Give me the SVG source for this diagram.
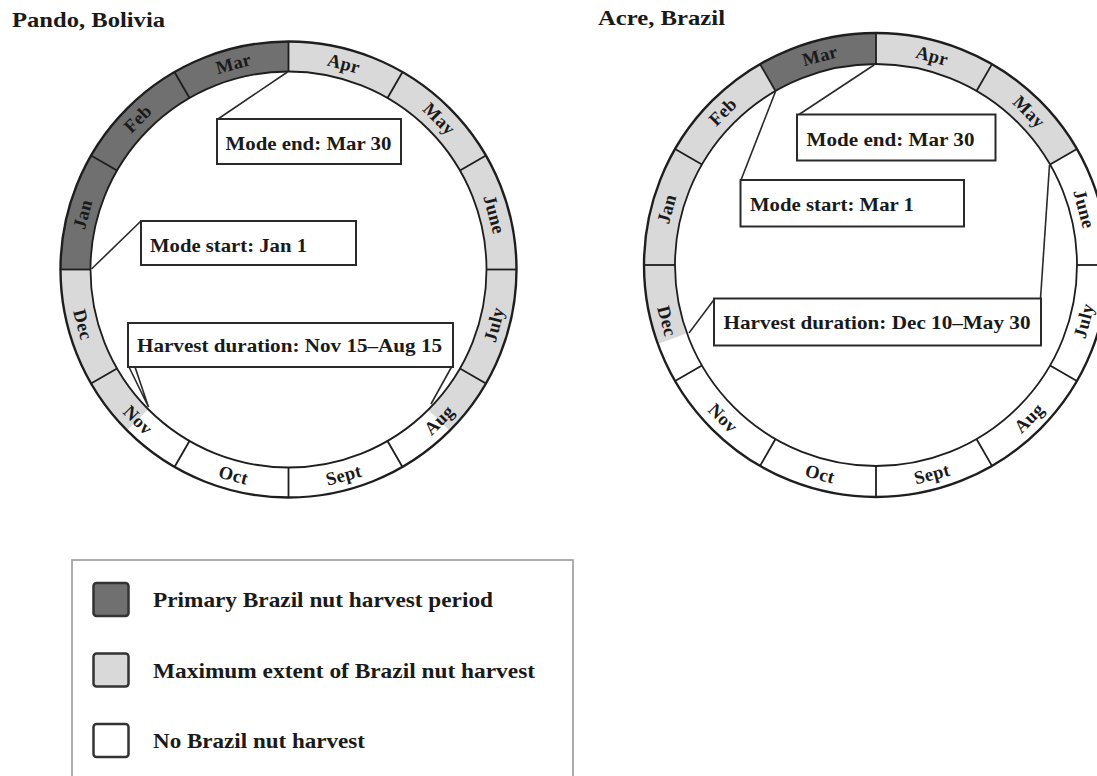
<svg xmlns="http://www.w3.org/2000/svg" width="1097" height="776" viewBox="0 0 1097 776">
<style>
text{font-family:"Liberation Serif","Times New Roman",serif;font-weight:bold;fill:#1a1a1a}
.title{font-size:22px}
.mon{font-size:18.5px;text-anchor:middle;letter-spacing:0.3px}
.call{font-size:19.5px}
.leg{font-size:21px}
.box{fill:#fff;stroke:#2a2a2a;stroke-width:2}
.ptr{fill:none;stroke:#2a2a2a;stroke-width:1.6}
.rim{fill:none;stroke:#1e1e1e;stroke-width:2.4}
.rimi{fill:none;stroke:#1e1e1e;stroke-width:1.8}
.div{stroke:#1e1e1e;stroke-width:1.8}
.light{fill:none;stroke:#d9d9d9}
.white{fill:none;stroke:#ffffff}
.dark{fill:none;stroke:#707070}
.sw{stroke:#333;stroke-width:2.5}
</style>
<rect width="1097" height="776" fill="#fff"/>

<g id="title-pando"><text class="title" x="12" y="27" textLength="153" lengthAdjust="spacingAndGlyphs">Pando, Bolivia</text></g>
<g id="title-acre"><text class="title" x="598" y="24.5" textLength="127" lengthAdjust="spacingAndGlyphs">Acre, Brazil</text></g>

<!-- Left ring: Pando -->
<g id="ring-pando">
  <circle class="light" cx="288.5" cy="269.5" r="213" stroke-width="30"/>
  <circle class="white" cx="288.5" cy="269.5" r="213" stroke-width="30" stroke-dasharray="0 501.87 334.58 2000" transform="rotate(-90 288.5 269.5)"/>
  <circle class="dark" cx="288.5" cy="269.5" r="213" stroke-width="30" stroke-dasharray="0 1003.74 334.58 2000" transform="rotate(-90 288.5 269.5)"/>
  <circle class="rim" cx="288.5" cy="269.5" r="228"/>
  <circle class="rimi" cx="288.5" cy="269.5" r="198"/>
  <line class="div" x1="288.5" y1="71.5" x2="288.5" y2="41.5"/>
  <line class="div" x1="387.5" y1="98.03" x2="402.5" y2="72.05"/>
  <line class="div" x1="459.97" y1="170.5" x2="485.95" y2="155.5"/>
  <line class="div" x1="486.5" y1="269.5" x2="516.5" y2="269.5"/>
  <line class="div" x1="459.97" y1="368.5" x2="485.95" y2="383.5"/>
  <line class="div" x1="387.5" y1="440.97" x2="402.5" y2="466.95"/>
  <line class="div" x1="288.5" y1="467.5" x2="288.5" y2="497.5"/>
  <line class="div" x1="189.5" y1="440.97" x2="174.5" y2="466.95"/>
  <line class="div" x1="117.03" y1="368.5" x2="91.05" y2="383.5"/>
  <line class="div" x1="90.5" y1="269.5" x2="60.5" y2="269.5"/>
  <line class="div" x1="117.03" y1="170.5" x2="91.05" y2="155.5"/>
  <line class="div" x1="189.5" y1="98.03" x2="174.5" y2="72.05"/>
  <text class="mon" dy="6" transform="translate(343.63 63.76) rotate(15)">Apr</text>
  <text class="mon" dy="6" transform="translate(439.11 118.89) rotate(45)">May</text>
  <text class="mon" dy="6" transform="translate(494.24 214.37) rotate(75)">June</text>
  <text class="mon" dy="6" transform="translate(494.24 324.63) rotate(-75)">July</text>
  <text class="mon" dy="6" transform="translate(439.11 420.11) rotate(-45)">Aug</text>
  <text class="mon" dy="6" transform="translate(343.63 475.24) rotate(-15)">Sept</text>
  <text class="mon" dy="6" transform="translate(233.37 475.24) rotate(15)">Oct</text>
  <text class="mon" dy="6" transform="translate(137.89 420.11) rotate(45)">Nov</text>
  <text class="mon" dy="6" transform="translate(82.76 324.63) rotate(75)">Dec</text>
  <text class="mon" dy="6" transform="translate(82.76 214.37) rotate(-75)">Jan</text>
  <text class="mon" dy="6" transform="translate(137.89 118.89) rotate(-45)">Feb</text>
  <text class="mon" dy="6" transform="translate(233.37 63.76) rotate(-15)">Mar</text>
</g>

<!-- Right ring: Acre -->
<g id="ring-acre">
  <circle class="light" cx="876" cy="265" r="216.5" stroke-width="31"/>
  <circle class="white" cx="876" cy="265" r="216.5" stroke-width="31" stroke-dasharray="0 226.72 717.94 2000" transform="rotate(-90 876 265)"/>
  <circle class="dark" cx="876" cy="265" r="216.5" stroke-width="31" stroke-dasharray="0 1246.95 113.36 2000" transform="rotate(-90 876 265)"/>
  <circle class="rim" cx="876" cy="265" r="232"/>
  <circle class="rimi" cx="876" cy="265" r="201"/>
  <line class="div" x1="876" y1="64" x2="876" y2="33"/>
  <line class="div" x1="976.5" y1="90.93" x2="992" y2="64.08"/>
  <line class="div" x1="1050.07" y1="164.5" x2="1076.92" y2="149"/>
  <line class="div" x1="1077" y1="265" x2="1108" y2="265"/>
  <line class="div" x1="1050.07" y1="365.5" x2="1076.92" y2="381"/>
  <line class="div" x1="976.5" y1="439.07" x2="992" y2="465.92"/>
  <line class="div" x1="876" y1="466" x2="876" y2="497"/>
  <line class="div" x1="775.5" y1="439.07" x2="760" y2="465.92"/>
  <line class="div" x1="701.93" y1="365.5" x2="675.08" y2="381"/>
  <line class="div" x1="675" y1="265" x2="644" y2="265"/>
  <line class="div" x1="701.93" y1="164.5" x2="675.08" y2="149"/>
  <line class="div" x1="775.5" y1="90.93" x2="760" y2="64.08"/>
  <text class="mon" dy="6" transform="translate(932.03 55.88) rotate(15)">Apr</text>
  <text class="mon" dy="6" transform="translate(1029.09 111.91) rotate(45)">May</text>
  <text class="mon" dy="6" transform="translate(1084 208.97) rotate(75)">June</text>
  <text class="mon" dy="6" transform="translate(1084 321.03) rotate(-75)">July</text>
  <text class="mon" dy="6" transform="translate(1029.09 418.09) rotate(-45)">Aug</text>
  <text class="mon" dy="6" transform="translate(932.03 474.12) rotate(-15)">Sept</text>
  <text class="mon" dy="6" transform="translate(819.97 474.12) rotate(15)">Oct</text>
  <text class="mon" dy="6" transform="translate(722.91 418.09) rotate(45)">Nov</text>
  <text class="mon" dy="6" transform="translate(666.88 321.03) rotate(75)">Dec</text>
  <text class="mon" dy="6" transform="translate(666.88 208.97) rotate(-75)">Jan</text>
  <text class="mon" dy="6" transform="translate(722.91 111.91) rotate(-45)">Feb</text>
  <text class="mon" dy="6" transform="translate(819.97 55.88) rotate(-15)">Mar</text>
</g>

<!-- Connectors (callout pointers) -->
<g id="connectors">
  <line class="ptr" x1="218" y1="119" x2="287.5" y2="72"/>
  <line class="ptr" x1="141" y1="221" x2="91.5" y2="269"/>
  <polygon class="ptr" fill="#fff" points="128.5,366 148.5,407 135,367"/>
  <line class="ptr" x1="451.5" y1="367" x2="431" y2="404"/>
  <line class="ptr" x1="799" y1="114.5" x2="874" y2="65"/>
  <line class="ptr" x1="741" y1="180" x2="775.5" y2="91.5"/>
  <line class="ptr" x1="714.5" y1="299" x2="689" y2="333"/>
  <line class="ptr" x1="1040.5" y1="299" x2="1049.5" y2="165"/>
</g>

<!-- Callout boxes -->
<g id="pando-mode-end">
  <rect class="box" x="217" y="119" width="184" height="45"/>
  <text class="call" x="225.5" y="150" textLength="166" lengthAdjust="spacingAndGlyphs">Mode end: Mar 30</text>
</g>
<g id="pando-mode-start">
  <rect class="box" x="141" y="221" width="215" height="44"/>
  <text class="call" x="150" y="251.5" textLength="157" lengthAdjust="spacingAndGlyphs">Mode start: Jan 1</text>
</g>
<g id="pando-harvest">
  <rect class="box" x="128" y="323" width="325" height="44"/>
  <text class="call" x="137" y="352" textLength="305" lengthAdjust="spacingAndGlyphs">Harvest duration: Nov 15–Aug 15</text>
</g>
<g id="acre-mode-end">
  <rect class="box" x="797" y="114.5" width="198.5" height="46"/>
  <text class="call" x="806.5" y="145.5" textLength="168" lengthAdjust="spacingAndGlyphs">Mode end: Mar 30</text>
</g>
<g id="acre-mode-start">
  <rect class="box" x="740.5" y="180" width="223.5" height="46.5"/>
  <text class="call" x="750" y="210.5" textLength="164" lengthAdjust="spacingAndGlyphs">Mode start: Mar 1</text>
</g>
<g id="acre-harvest">
  <rect class="box" x="714" y="298.5" width="327" height="47"/>
  <text class="call" x="723.5" y="329" textLength="307" lengthAdjust="spacingAndGlyphs">Harvest duration: Dec 10–May 30</text>
</g>

<!-- Legend -->
<g id="legend">
  <rect x="72" y="560" width="501" height="240" fill="#fff" stroke="#999" stroke-width="1.6"/>
  <g id="legend-primary">
    <rect class="sw" x="93.5" y="583" width="35" height="33" rx="3" fill="#707070"/>
    <text class="leg" x="153" y="607" textLength="340" lengthAdjust="spacingAndGlyphs">Primary Brazil nut harvest period</text>
  </g>
  <g id="legend-maximum">
    <rect class="sw" x="93.5" y="653.5" width="35" height="33" rx="3" fill="#d9d9d9"/>
    <text class="leg" x="153" y="678" textLength="382" lengthAdjust="spacingAndGlyphs">Maximum extent of Brazil nut harvest</text>
  </g>
  <g id="legend-none">
    <rect class="sw" x="93.5" y="724" width="35" height="33" rx="3" fill="#ffffff"/>
    <text class="leg" x="153" y="748" textLength="212" lengthAdjust="spacingAndGlyphs">No Brazil nut harvest</text>
  </g>
</g>
</svg>
